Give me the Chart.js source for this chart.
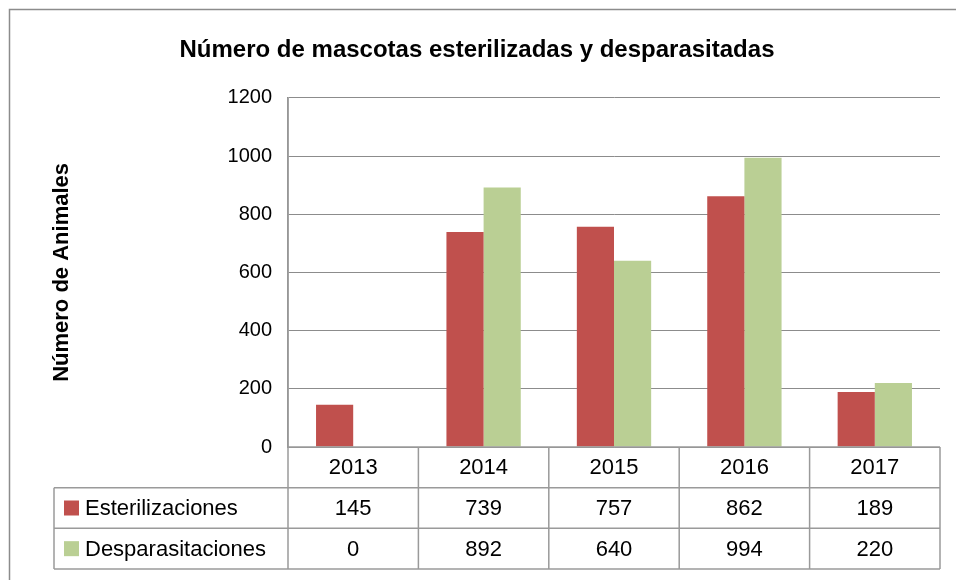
<!DOCTYPE html>
<html>
<head>
<meta charset="utf-8">
<script src="https://cdn.jsdelivr.net/npm/chart.js@4/dist/chart.umd.min.js"></script>
<style>
  html, body { margin: 0; padding: 0; background: #ffffff; }
  #wrap { width: 956px; height: 580px; position: relative; }
</style>
</head>
<body>
<div id="wrap"><canvas id="c" width="956" height="580"></canvas></div>
<script>
const years = ['2013', '2014', '2015', '2016', '2017'];
const esterilizaciones = [145, 739, 757, 862, 189];
const desparasitaciones = [0, 892, 640, 994, 220];
const seriesNames = ['Esterilizaciones', 'Desparasitaciones'];
const seriesColors = ['#C0504D', '#BACF94'];
const yMin = 0, yMax = 1200, yStep = 200;
const titleText = 'Número de mascotas esterilizadas y desparasitadas';
const yTitleText = 'Número de Animales';

const FONT = "'Liberation Sans', Arial, sans-serif";
const GRID = '#8c8c8c';
const TABLE_LINE = '#9a9a9a';

const tablePlugin = {
  id: 'dataTable',
  afterDraw(chart) {
    const ctx = chart.ctx;
    const area = chart.chartArea;
    const xs = chart.scales.x;
    const n = years.length;
    const colW = (area.right - area.left) / n;
    const top = area.bottom;
    const rowH = (569 - top) / 3;
    const legendLeft = 54;
    ctx.save();
    // outer frame
    ctx.strokeStyle = '#8c8c8c';
    ctx.lineWidth = 1.5;
    ctx.beginPath();
    ctx.moveTo(9.5, 580);
    ctx.lineTo(9.5, 9.5);
    ctx.lineTo(956, 9.5);
    ctx.stroke();

    ctx.strokeStyle = TABLE_LINE;
    ctx.lineWidth = 1.5;
    ctx.beginPath();
    ctx.moveTo(area.left, top); ctx.lineTo(area.right, top);
    for (let r = 1; r <= 3; r++) {
      const y = top + rowH * r;
      ctx.moveTo(legendLeft, y); ctx.lineTo(area.right, y);
    }
    ctx.moveTo(legendLeft, top + rowH); ctx.lineTo(legendLeft, top + rowH * 3);
    ctx.moveTo(area.left, area.top); ctx.lineTo(area.left, top + rowH * 3);
    for (let i = 1; i <= n; i++) {
      const x = area.left + colW * i;
      ctx.moveTo(x, top); ctx.lineTo(x, top + rowH * 3);
    }
    ctx.stroke();

    ctx.fillStyle = '#000000';
    ctx.font = '22px ' + FONT;
    ctx.textAlign = 'center';
    ctx.textBaseline = 'middle';
    const rows = [years, esterilizaciones, desparasitaciones];
    rows.forEach((row, r) => {
      const y = top + rowH * r + rowH / 2 + 1;
      row.forEach((v, i) => {
        const x = xs.getPixelForValue(i);
        ctx.fillText(String(v), x, y);
      });
    });
    ctx.textAlign = 'left';
    seriesNames.forEach((name, s) => {
      const y = top + rowH * (s + 1) + rowH / 2;
      ctx.fillStyle = seriesColors[s];
      ctx.fillRect(64, y - 7.5, 15, 15);
      ctx.fillStyle = '#000000';
      ctx.fillText(name, 85, y + 1);
    });
    ctx.restore();
  }
};

new Chart(document.getElementById('c'), {
  type: 'bar',
  data: {
    labels: years,
    datasets: [
      { label: seriesNames[0], data: esterilizaciones, backgroundColor: seriesColors[0], borderWidth: 0 },
      { label: seriesNames[1], data: desparasitaciones, backgroundColor: seriesColors[1], borderWidth: 0 }
    ]
  },
  options: {
    responsive: false,
    animation: false,
    devicePixelRatio: 1,
    layout: { padding: { left: 14, right: 16, top: 0, bottom: 11 } },
    datasets: { bar: { categoryPercentage: 0.57, barPercentage: 1.0 } },
    plugins: {
      legend: { display: false },
      tooltip: { enabled: false },
      title: {
        display: true,
        text: titleText,
        color: '#000000',
        font: { family: FONT, size: 24, weight: 'bold' },
        padding: { top: 36, bottom: 33 }
      }
    },
    scales: {
      x: {
        grid: { display: false },
        border: { display: false },
        ticks: { display: false },
        afterFit(scale) { scale.height = 122; }
      },
      y: {
        min: yMin,
        max: yMax,
        ticks: {
          stepSize: yStep, color: '#000000', font: { family: FONT, size: 20 }, padding: 16,
          callback: (v) => String(v)
        },
        grid: { color: GRID, lineWidth: 1, drawTicks: false },
        border: { display: true, color: GRID, width: 1.5 },
        title: {
          display: true,
          text: yTitleText,
          color: '#000000',
          font: { family: FONT, size: 22, weight: 'bold' },
          padding: { top: 35, bottom: 4 }
        },
        afterFit(scale) { scale.width = 274; }
      }
    }
  },
  plugins: [tablePlugin]
});
</script>
</body>
</html>
